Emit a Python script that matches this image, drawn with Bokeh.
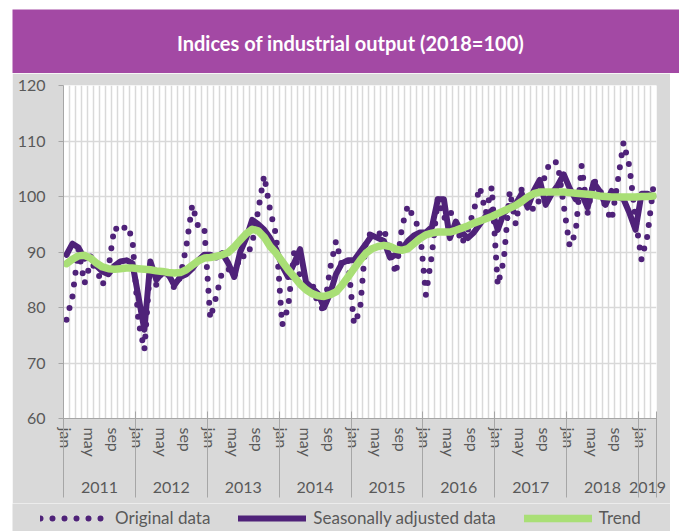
from bokeh.plotting import figure
from bokeh.models import Range1d, FixedTicker, LinearAxis, Legend, LegendItem, Label, Spacer
from bokeh.layouts import column, row
from bokeh.embed import file_html
from bokeh.resources import INLINE

# ---------------- data ----------------
title_text = "Indices of industrial output (2018=100)"
years = ["2011", "2012", "2013", "2014", "2015", "2016", "2017", "2018", "2019"]
months_in_year = [12, 12, 12, 12, 12, 12, 12, 12, 3]
month_names = ["jan", "feb", "mar", "apr", "may", "jun",
               "jul", "aug", "sep", "oct", "nov", "dec"]
labelled_months = ["jan", "may", "sep"]
y_ticks = [60, 70, 80, 90, 100, 110, 120]
series_labels = ["Original data", "Seasonally adjusted data", "Trend"]

original = [
    77.8, 82.0, 90.5, 84.3, 88.0, 87.0, 84.0, 87.0, 94.5, 93.5, 94.8, 92.5,
    77.5, 72.3, 88.0, 84.0, 86.5, 86.0, 83.5, 85.5, 91.0, 98.5, 94.5, 94.5,
    78.0, 82.0, 86.5, 87.0, 85.5, 89.5, 89.0, 91.5, 97.5, 103.8, 97.5, 93.0,
    76.8, 80.0, 90.0, 85.5, 84.0, 84.5, 80.5, 79.5, 87.0, 92.0, 87.5, 88.5,
    77.0, 79.5, 92.5, 93.5, 93.0, 94.2, 90.0, 86.0, 94.5, 98.4, 96.0, 94.0,
    82.3, 89.5, 99.7, 96.0, 97.5, 95.0, 91.5, 94.0, 97.5, 101.7, 97.0, 101.7,
    84.0, 88.5, 101.0, 95.0, 101.4, 99.5, 97.5, 99.5, 104.5, 106.5, 106.0, 98.5,
    91.0, 93.5, 105.5, 97.0, 103.0, 101.5, 98.0, 95.7, 102.5, 109.8, 105.3, 96.0,
    88.6, 93.0, 102.0,
]
seasonally_adjusted = [
    89.5, 91.5, 90.8, 88.8, 89.2, 87.5, 86.5, 86.0, 87.5, 88.3, 88.5, 88.0,
    82.0, 76.0, 88.3, 85.0, 86.3, 86.0, 84.0, 85.5, 86.0, 87.0, 88.5, 89.5,
    89.5, 89.0, 89.8, 88.0, 85.5, 90.0, 92.5, 95.8, 95.0, 94.0, 92.5, 90.5,
    87.5, 85.5, 88.0, 90.5, 84.5, 83.5, 82.5, 80.0, 82.5, 86.0, 88.0, 88.5,
    88.5, 90.0, 91.5, 93.0, 92.5, 92.0, 89.0, 89.5, 90.5, 92.0, 93.0, 93.5,
    93.5, 94.5, 99.5, 99.5, 92.5, 95.5, 93.5, 92.5, 93.5, 95.0, 96.5, 97.5,
    94.0, 97.0, 98.0, 98.7, 100.5, 98.0, 101.0, 103.0, 98.5, 100.5, 102.0, 104.0,
    101.5, 99.5, 100.5, 98.0, 102.5, 101.0, 98.5, 101.0, 100.0, 99.5, 97.0, 94.0,
    100.5, 100.5, 100.0,
]
trend = [
    87.9, 88.7, 89.3, 89.4, 88.9, 88.0, 87.3, 87.0, 86.9, 87.0, 87.1, 87.1,
    87.0, 86.9, 86.8, 86.6, 86.5, 86.3, 86.2, 86.3, 86.8, 87.6, 88.4, 88.9,
    89.0, 89.2, 89.5, 89.9, 90.9, 92.1, 93.3, 94.1, 93.8, 92.7, 91.0, 89.8,
    88.3, 86.8, 85.5, 84.2, 83.2, 82.5, 82.1, 82.0, 82.3, 82.8, 84.0, 85.5,
    87.0, 88.5, 89.8, 90.6, 91.0, 91.2, 91.0, 90.5, 90.3, 90.6, 91.5, 92.4,
    93.1, 93.4, 93.6, 93.6, 93.6, 93.9, 94.3, 94.7, 95.2, 95.6, 96.0, 96.4,
    96.9, 97.4, 97.9, 98.4, 99.1, 99.9, 100.5, 100.8, 100.8, 100.8, 100.8, 100.8,
    100.7, 100.6, 100.5, 100.4, 100.3, 100.1, 100.0, 99.9, 99.9, 99.9, 99.9, 99.9,
    100.0, 100.0, 100.1,
]

# ---------------- derived positions ----------------
x = list(range(len(original)))
names = []
starts = []
for yr, n in zip(years, months_in_year):
    starts.append(len(names))
    names.extend(month_names[:n])
month_ticks = [i for i, nm in enumerate(names) if nm in labelled_months]
month_overrides = {i: names[i] for i in month_ticks}
year_bounds = [s - 0.5 for s in starts] + [len(names) - 0.5]
month_bounds = [i - 0.5 for i in range(len(names) + 1)]
year_centers = [s + (n - 1) / 2 for s, n in zip(starts, months_in_year)]
year_overrides = {c: yr for c, yr in zip(year_centers, years)}

PURPLE = "#4f2279"
GREEN = "#a9df76"
BANNER = "#a349a4"
PANEL = "#d9d9d9"
TEXT = "#595959"
AXIS = "#a6a6a6"
FONT = "Lato"

orig_style = dict(line_color=PURPLE, line_width=6, line_dash="0 12", line_cap="round")
sa_style = dict(line_color=PURPLE, line_width=6, line_join="round", line_cap="round")
tr_style = dict(line_color=GREEN, line_width=7.5, line_join="round", line_cap="round")

# ---------------- banner ----------------
banner = figure(width=679, height=73, x_range=Range1d(0, 667), y_range=Range1d(0, 64),
                output_backend="svg", toolbar_location=None,
                min_border_left=12, min_border_top=9, min_border_right=0, min_border_bottom=0,
                x_axis_location=None, y_axis_location=None,
                background_fill_color=BANNER, border_fill_color="white",
                outline_line_color=None)
banner.grid.visible = False
banner.add_layout(Label(x=338, y=31, text=title_text, text_align="center",
                        text_baseline="middle", text_color="white", text_font=FONT,
                        text_font_style="bold", text_font_size="20px"))

# ---------------- main chart ----------------
p = figure(width=658, height=430, x_range=Range1d(-0.5, len(names) - 0.5),
           y_range=Range1d(60, 120), output_backend="svg", toolbar_location=None,
           min_border_left=51, min_border_right=14, min_border_top=12,
           min_border_bottom=85, background_fill_color="white",
           border_fill_color=PANEL, outline_line_color=None)

xa = p.xaxis[0]
xa.ticker = FixedTicker(ticks=month_ticks)
xa.major_label_overrides = month_overrides
xa.major_label_orientation = "vertical"
xa.major_tick_out = 0
xa.major_tick_in = 0
xa.major_tick_line_color = None
xa.minor_tick_line_color = None
xa.axis_line_color = AXIS
xa.major_label_standoff = 9
xa.major_label_text_font = FONT
xa.major_label_text_font_size = "16px"
xa.major_label_text_color = TEXT

year_axis = LinearAxis(ticker=FixedTicker(ticks=year_centers),
                       major_label_overrides=year_overrides,
                       axis_line_color=None, major_tick_line_color=None,
                       minor_tick_line_color=None, major_tick_in=0, major_tick_out=0,
                       major_label_standoff=22,
                       major_label_text_font=FONT, major_label_text_font_size="16px",
                       major_label_text_color=TEXT)
p.add_layout(year_axis, "below")

sep_axis = LinearAxis(ticker=FixedTicker(ticks=[], minor_ticks=year_bounds),
                      axis_line_color=None, major_tick_line_color=None,
                      major_tick_in=0, major_tick_out=0,
                      minor_tick_line_color=AXIS, minor_tick_line_width=1,
                      minor_tick_in=84, minor_tick_out=2, major_label_standoff=0)
p.add_layout(sep_axis, "below")

ya = p.yaxis[0]
ya.ticker = FixedTicker(ticks=y_ticks)
ya.major_tick_out = 5
ya.major_tick_in = 0
ya.minor_tick_line_color = None
ya.axis_line_color = AXIS
ya.major_tick_line_color = AXIS
ya.major_label_standoff = 13
ya.major_label_text_font = FONT
ya.major_label_text_font_size = "16px"
ya.major_label_text_color = TEXT

p.xgrid.ticker = FixedTicker(ticks=month_bounds)
p.xgrid.grid_line_color = PANEL
p.xgrid.grid_line_width = 1.5
p.ygrid.ticker = FixedTicker(ticks=y_ticks)
p.ygrid.grid_line_color = PANEL
p.ygrid.grid_line_width = 1.5

p.line(x, original, **orig_style)
p.line(x, seasonally_adjusted, **sa_style)
p.line(x, trend, **tr_style)

# ---------------- legend strip ----------------
# the series are drawn here too but fall outside this strip's ranges,
# so only the legend samples are visible
leg = figure(width=670, height=28, x_range=Range1d(-3, -2), y_range=Range1d(0, 1),
             output_backend="svg", toolbar_location=None,
             min_border_left=12, min_border_right=0, min_border_top=0, min_border_bottom=0,
             x_axis_location=None, y_axis_location=None,
             background_fill_color=PANEL, border_fill_color="white",
             outline_line_color=None)
leg.grid.visible = False
k_orig = leg.line(x, original, **orig_style)
k_sa = leg.line(x, seasonally_adjusted, **sa_style)
k_tr = leg.line(x, trend, **tr_style)
legend = Legend(items=[LegendItem(label=series_labels[0], renderers=[k_orig]),
                       LegendItem(label=series_labels[1], renderers=[k_sa]),
                       LegendItem(label=series_labels[2], renderers=[k_tr])],
                location=(28, 3), orientation="horizontal", spacing=28,
                glyph_width=68, glyph_height=20, label_height=20, label_standoff=7,
                padding=0, margin=0, border_line_color=None, background_fill_alpha=0,
                label_text_font=FONT, label_text_font_size="17px",
                label_text_color=TEXT)
leg.add_layout(legend)

layout = column(banner,
                row(Spacer(width=12, height=430), p, spacing=0),
                leg,
                spacing=0)
open("out.html", "w").write(file_html(layout, INLINE))
